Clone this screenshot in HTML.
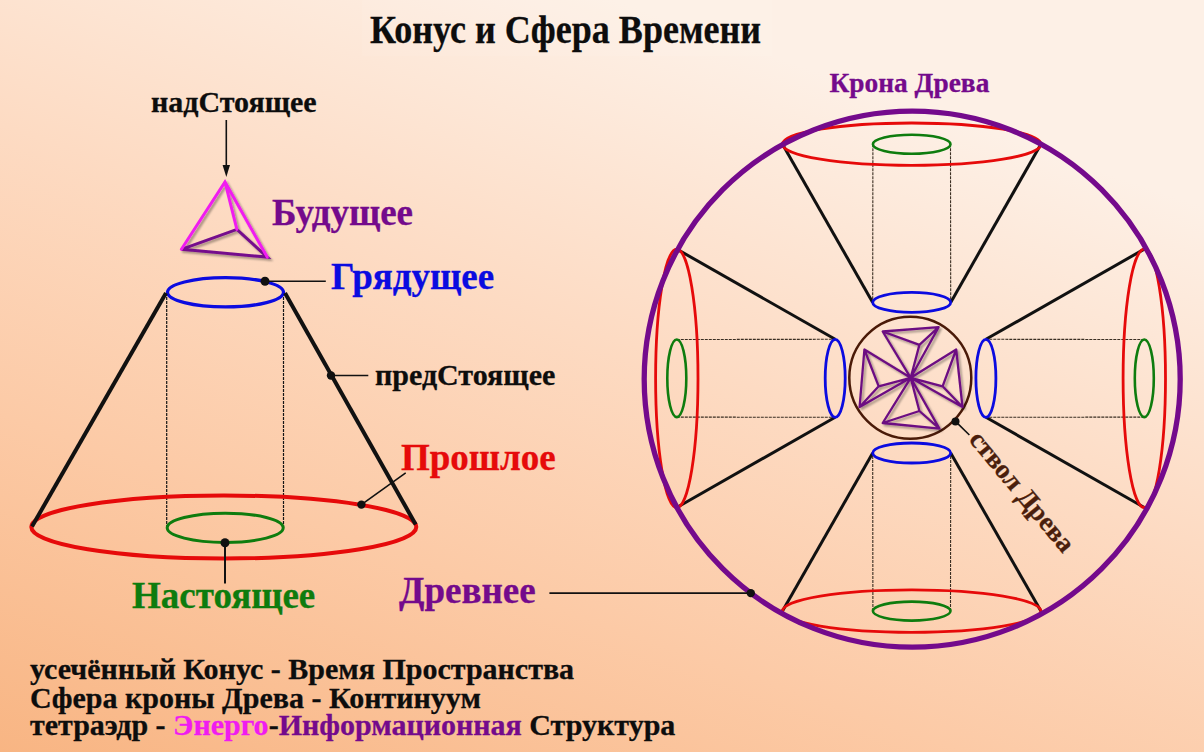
<!DOCTYPE html>
<html><head><meta charset="utf-8"><style>html,body{margin:0;padding:0;width:1204px;height:752px;overflow:hidden}svg{display:block}</style></head>
<body><svg width="1204" height="752" viewBox="0 0 1204 752">
<defs>
<linearGradient id="bg" gradientUnits="userSpaceOnUse" x1="0" y1="752" x2="301" y2="-109">
<stop offset="0" stop-color="#f8b583"/><stop offset="0.35" stop-color="#fccaa6"/><stop offset="0.65" stop-color="#fddbc3"/><stop offset="1" stop-color="#fdf0e6"/>
</linearGradient>
<filter id="sh" x="-20%" y="-20%" width="140%" height="140%"><feGaussianBlur in="SourceAlpha" stdDeviation="1"/><feOffset dx="2" dy="2"/><feComponentTransfer><feFuncA type="linear" slope="0.35"/></feComponentTransfer><feMerge><feMergeNode/><feMergeNode in="SourceGraphic"/></feMerge></filter>
</defs>
<rect width="1204" height="752" fill="url(#bg)"/>
<rect x="362" y="0" width="410" height="56" fill="#fff" fill-opacity="0.07"/>
<g font-family="Liberation Serif" font-weight="bold" stroke-width="0.3">
<text x="370" y="42.7" font-size="39" textLength="391" lengthAdjust="spacingAndGlyphs" fill="#0d0d0d" stroke="#0d0d0d">Конус и Сфера Времени</text>
<text x="151" y="111.8" font-size="30" fill="#0d0d0d" stroke="#0d0d0d">надСтоящее</text>
<text x="272" y="224.9" font-size="37" fill="#740a8c" stroke="#740a8c">Будущее</text>
<text x="331" y="289.3" font-size="37" fill="#0b0be0" stroke="#0b0be0">Грядущее</text>
<text x="375" y="384.5" font-size="30" fill="#0d0d0d" stroke="#0d0d0d">предСтоящее</text>
<text x="401" y="469.8" font-size="37" fill="#e60a0a" stroke="#e60a0a">Прошлое</text>
<text x="132" y="607.5" font-size="37" fill="#0e7c0e" stroke="#0e7c0e">Настоящее</text>
<text x="399" y="602.6" font-size="37" fill="#740a8c" stroke="#740a8c">Древнее</text>
<text x="829.5" y="92.4" font-size="27.4" fill="#740a8c" stroke="#740a8c">Крона Древа</text>
<text transform="translate(968,440) rotate(50.3)" font-size="27" fill="#4a1e0c" stroke="#4a1e0c">ствол Древа</text>
<text x="30" y="678.8" font-size="30" fill="#0d0d0d" stroke="#0d0d0d">усечённый Конус - Время Пространства</text>
<text x="30" y="708" font-size="30" fill="#0d0d0d" stroke="#0d0d0d">Сфера кроны Древа - Континуум</text>
<text x="30" y="735" font-size="30" fill="#0d0d0d" stroke="#0d0d0d">тетраэдр - <tspan fill="#f01cf0" stroke="#f01cf0">Энерго</tspan>-<tspan fill="#740a8c" stroke="#740a8c">Информационная</tspan> Структура</text>
</g>
<style>
.k3{stroke:#111;stroke-width:3;fill:none}
.k4{stroke:#111;stroke-width:4;fill:none}
.k1{stroke:#111;stroke-width:1.6;fill:none}
.dash{stroke:#3a2e22;stroke-width:1.1;stroke-dasharray:3 1;fill:none}
.red2{stroke:#e60a0a;stroke-width:2.8;fill:none}
.grn2{stroke:#0e7c0e;stroke-width:2.6;fill:none}
.blu2{stroke:#0b0be0;stroke-width:2.8;fill:none}
.crs{stroke:#6c0c82;stroke-width:2.3;fill:none;stroke-linejoin:round}
</style>
<!-- left cone -->
<line x1="166.7" y1="293" x2="166.7" y2="528" class="dash" style="stroke:#151515;stroke-width:1.2"/>
<line x1="283.5" y1="293" x2="283.5" y2="528" class="dash" style="stroke:#151515;stroke-width:1.2"/>
<ellipse cx="223.8" cy="527" rx="192.5" ry="31.5" stroke="#e60a0a" stroke-width="4" fill="none"/>
<ellipse cx="225.2" cy="527.8" rx="58" ry="14.6" stroke="#0e7c0e" stroke-width="3" fill="none"/>
<ellipse cx="225.5" cy="292.3" rx="58" ry="14.6" stroke="#0b0be0" stroke-width="3.3" fill="none"/>
<line x1="166" y1="293" x2="32" y2="526.5" class="k4"/>
<line x1="285" y1="293" x2="415.7" y2="524.5" class="k4"/>

<circle cx="265" cy="281.3" r="4.5" fill="#111"/><line x1="265" y1="281.3" x2="325.8" y2="281.3" class="k1"/>
<circle cx="331" cy="375.5" r="4.2" fill="#111"/><line x1="331" y1="375.5" x2="368.3" y2="375.5" class="k1"/>
<circle cx="361.4" cy="504.6" r="4.2" fill="#111"/><line x1="361.4" y1="504.6" x2="405.7" y2="472.9" class="k1"/>
<circle cx="225" cy="542.8" r="4.5" fill="#111"/><line x1="225" y1="542.8" x2="225" y2="583.4" class="k1" style="stroke-width:2"/>
<!-- arrow -->
<line x1="226.3" y1="120" x2="226.3" y2="168" class="k1"/>
<path d="M222.6 165 L226.3 177 L230 165 Z" fill="#111"/>
<!-- tetrahedron -->
<g filter="url(#sh)" stroke-width="3" stroke-linecap="round" fill="none">
<path d="M181.4 249.3 L236.9 229.4 L267.2 257.1 Z" stroke="#740a8c"/>
<path d="M181.4 249.3 L225 182 L267.2 257.1 M225 182 L236.9 229.4" stroke="#f01cf0"/>
</g>
<!-- sphere -->
<line x1="872.9" y1="144.2" x2="872.7" y2="302.4" class="dash"/>
<line x1="950.5" y1="144.2" x2="950.7" y2="302.4" class="dash"/>
<line x1="782.5" y1="144.2" x2="872.7" y2="302.4" class="k3"/>
<line x1="1040.9" y1="144.2" x2="950.7" y2="302.4" class="k3"/>
<ellipse cx="911.7" cy="144.2" rx="129.2" ry="21.2" class="red2"/>
<ellipse cx="911.7" cy="144.2" rx="38.8" ry="9.5" class="grn2"/>
<ellipse cx="911.7" cy="302.4" rx="39" ry="10" class="blu2"/>
<line x1="872.9" y1="611.1" x2="872.7" y2="453.0" class="dash"/>
<line x1="950.5" y1="611.1" x2="950.7" y2="453.0" class="dash"/>
<line x1="782.5" y1="611.1" x2="872.7" y2="453.0" class="k3"/>
<line x1="1040.9" y1="611.1" x2="950.7" y2="453.0" class="k3"/>
<ellipse cx="911.7" cy="611.1" rx="129.2" ry="21.2" class="red2"/>
<ellipse cx="911.7" cy="611.1" rx="38.8" ry="9.5" class="grn2"/>
<ellipse cx="911.7" cy="453.0" rx="39" ry="10" class="blu2"/>
<line x1="676.8" y1="339.5" x2="835.2" y2="339.3" class="dash"/>
<line x1="676.8" y1="417.1" x2="835.2" y2="417.3" class="dash"/>
<line x1="676.8" y1="249.1" x2="835.2" y2="339.3" class="k3"/>
<line x1="676.8" y1="507.5" x2="835.2" y2="417.3" class="k3"/>
<ellipse cx="676.8" cy="378.3" rx="21.2" ry="129.2" class="red2"/>
<ellipse cx="676.8" cy="378.3" rx="9.5" ry="38.8" class="grn2"/>
<ellipse cx="835.2" cy="378.3" rx="10" ry="39" class="blu2"/>
<line x1="1144.3" y1="339.5" x2="985.9" y2="339.3" class="dash"/>
<line x1="1144.3" y1="417.1" x2="985.9" y2="417.3" class="dash"/>
<line x1="1144.3" y1="249.1" x2="985.9" y2="339.3" class="k3"/>
<line x1="1144.3" y1="507.5" x2="985.9" y2="417.3" class="k3"/>
<ellipse cx="1144.3" cy="378.3" rx="21.2" ry="129.2" class="red2"/>
<ellipse cx="1144.3" cy="378.3" rx="9.5" ry="38.8" class="grn2"/>
<ellipse cx="985.9" cy="378.3" rx="10" ry="39" class="blu2"/>
<circle cx="910.3" cy="377.8" r="61" stroke="#4a1a08" stroke-width="2.5" fill="none"/>
<path d="M910.7 377.8L882.7 331.5L938.6 327.2Z M882.7 331.5L919.4 344.9L938.6 327.2 M919.4 344.9L910.7 377.8 M910.7 377.8L882.7 423.0L939.4 428.6Z M882.7 423.0L919.4 411.0L939.4 428.6 M919.4 411.0L910.7 377.8 M910.7 377.8L956.2 349.5L962.5 407.0Z M956.2 349.5L942.6 386.3L962.5 407.0 M942.6 386.3L910.7 377.8 M910.7 377.8L864.4 349.5L859.6 407.0Z M864.4 349.5L878.7 386.3L859.6 407.0 M878.7 386.3L910.7 377.8" class="crs" filter="url(#sh)"/>
<circle cx="912.2" cy="379.2" r="268" stroke="#740a8c" stroke-width="5.3" fill="none"/>
<circle cx="955.5" cy="421.4" r="4" fill="#111"/><line x1="955.5" y1="421.4" x2="969.4" y2="435" class="k1"/>
<line x1="549.4" y1="593.1" x2="750.8" y2="593.1" class="k1"/><circle cx="750.8" cy="593.1" r="4.2" fill="#111"/>
</svg></body></html>
